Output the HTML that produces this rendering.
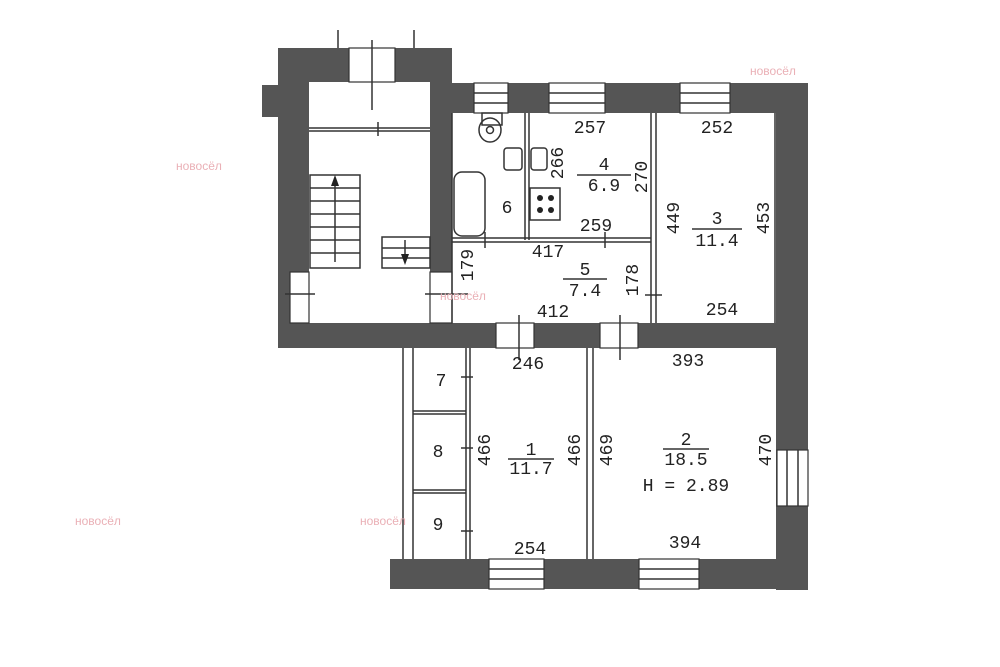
<!DOCTYPE html>
<html><head><meta charset="utf-8"><style>
html,body{margin:0;padding:0;background:#fff}
svg{display:block}
text{font-family:"Liberation Mono",monospace;font-size:18px;fill:#222}
.w{fill:#555}
.o{fill:#fff;stroke:#333;stroke-width:1.2}
.l{stroke:#333;stroke-width:1.5;fill:none}
.wm{font-family:"Liberation Sans",sans-serif;font-size:12px;fill:#eab0b6}
</style></head><body>
<svg width="1000" height="667" viewBox="0 0 1000 667" xmlns="http://www.w3.org/2000/svg">
<rect width="1000" height="667" fill="#fff"/>
<line class="l" x1="338" y1="30" x2="338" y2="48"/><line class="l" x1="414" y1="30" x2="414" y2="48"/>
<rect class="w" x="278" y="48" width="174" height="34"/>
<rect class="w" x="278" y="48" width="31" height="300"/>
<rect class="w" x="262" y="85" width="16" height="32"/>
<rect class="w" x="430" y="48" width="22" height="300"/>
<rect class="o" x="349" y="48" width="46" height="34"/>
<line class="l" x1="372" y1="40" x2="372" y2="110"/>
<rect class="w" x="452" y="83" width="356" height="30"/>
<rect class="w" x="776" y="83" width="32" height="507"/>
<rect class="o" x="474" y="83" width="34" height="30"/><line class="l" x1="474" y1="93" x2="508" y2="93"/><line class="l" x1="474" y1="103" x2="508" y2="103"/>
<rect class="o" x="549" y="83" width="56" height="30"/><line class="l" x1="549" y1="93" x2="605" y2="93"/><line class="l" x1="549" y1="103" x2="605" y2="103"/>
<rect class="o" x="680" y="83" width="50" height="30"/><line class="l" x1="680" y1="93" x2="730" y2="93"/><line class="l" x1="680" y1="103" x2="730" y2="103"/>
<rect class="w" x="278" y="323" width="530" height="25"/>
<rect class="o" x="496" y="323" width="38" height="25"/>
<rect class="o" x="600" y="323" width="38" height="25"/>
<rect class="o" x="290" y="272" width="19" height="51"/>
<rect class="o" x="430" y="272" width="22" height="51"/>
<line class="l" x1="285" y1="294" x2="315" y2="294"/><line class="l" x1="425" y1="294" x2="468" y2="294"/>
<line class="l" x1="309" y1="128" x2="430" y2="128"/><line class="l" x1="309" y1="131" x2="430" y2="131"/>
<line class="l" x1="378" y1="122" x2="378" y2="136"/>
<g class="l">
<rect x="310" y="175" width="50" height="93"/>
<line x1="310" y1="188" x2="360" y2="188"/><line x1="310" y1="201" x2="360" y2="201"/><line x1="310" y1="214" x2="360" y2="214"/><line x1="310" y1="227" x2="360" y2="227"/><line x1="310" y1="240" x2="360" y2="240"/><line x1="310" y1="253" x2="360" y2="253"/>
<rect x="382" y="237" width="48" height="31"/><line x1="382" y1="248" x2="430" y2="248"/><line x1="382" y1="258" x2="430" y2="258"/>
<line x1="335" y1="180" x2="335" y2="262"/><line x1="405" y1="240" x2="405" y2="262"/>
</g>
<polygon points="335,175 331,186 339,186" fill="#222"/>
<polygon points="405,265 401,254 409,254" fill="#222"/>
<g class="l">
<line x1="452" y1="113" x2="452" y2="323"/>
<line x1="525" y1="113" x2="525" y2="240"/><line x1="529" y1="113" x2="529" y2="240"/>
<line x1="651" y1="113" x2="651" y2="323"/><line x1="656" y1="113" x2="656" y2="323"/>
<line x1="452" y1="238" x2="651" y2="238"/><line x1="452" y1="242" x2="651" y2="242"/>
<line x1="775" y1="113" x2="775" y2="323"/>
<line x1="485" y1="232" x2="485" y2="248"/><line x1="605" y1="232" x2="605" y2="248"/>
<line x1="645" y1="295" x2="662" y2="295"/>
<line x1="519" y1="315" x2="519" y2="360"/><line x1="620" y1="315" x2="620" y2="360"/>
</g>
<g class="l">
<rect x="482" y="113" width="20" height="12"/><ellipse cx="490" cy="130" rx="11" ry="12"/><circle cx="490" cy="130" r="3.5"/>
<rect x="504" y="148" width="18" height="22" rx="3"/><rect x="531" y="148" width="16" height="22" rx="3"/>
<rect x="454" y="172" width="31" height="64" rx="8"/>
<rect x="530" y="188" width="30" height="32"/>
</g>
<circle cx="540" cy="198" r="3" fill="#222"/><circle cx="551" cy="198" r="3" fill="#222"/><circle cx="540" cy="210" r="3" fill="#222"/><circle cx="551" cy="210" r="3" fill="#222"/>
<rect class="w" x="390" y="559" width="418" height="30"/>
<rect class="o" x="489" y="559" width="55" height="30"/><line class="l" x1="489" y1="569" x2="544" y2="569"/><line class="l" x1="489" y1="579" x2="544" y2="579"/>
<rect class="o" x="639" y="559" width="60" height="30"/><line class="l" x1="639" y1="569" x2="699" y2="569"/><line class="l" x1="639" y1="579" x2="699" y2="579"/>
<rect class="o" x="777" y="450" width="31" height="56"/><line class="l" x1="787" y1="450" x2="787" y2="506"/><line class="l" x1="798" y1="450" x2="798" y2="506"/>
<g class="l">
<line x1="403" y1="348" x2="403" y2="559"/><line x1="413" y1="348" x2="413" y2="559"/>
<line x1="466" y1="348" x2="466" y2="559"/><line x1="470" y1="348" x2="470" y2="559"/>
<line x1="587" y1="348" x2="587" y2="559"/><line x1="593" y1="348" x2="593" y2="559"/>
<line x1="413" y1="411" x2="466" y2="411"/><line x1="413" y1="414" x2="466" y2="414"/>
<line x1="413" y1="490" x2="466" y2="490"/><line x1="413" y1="493" x2="466" y2="493"/>
<line x1="461" y1="377" x2="473" y2="377"/><line x1="461" y1="448" x2="473" y2="448"/><line x1="461" y1="531" x2="473" y2="531"/>
</g>
<text x="590" y="133" text-anchor="middle">257</text>
<text x="717" y="133" text-anchor="middle">252</text>
<text transform="translate(563,163) rotate(-90)" text-anchor="middle">266</text>
<text x="604" y="170" text-anchor="middle">4</text><line class="l" x1="577" y1="175" x2="631" y2="175"/>
<text x="604" y="191" text-anchor="middle">6.9</text>
<text transform="translate(647,177) rotate(-90)" text-anchor="middle">270</text>
<text x="507" y="213" text-anchor="middle">6</text>
<text x="596" y="231" text-anchor="middle">259</text>
<text transform="translate(679,218) rotate(-90)" text-anchor="middle">449</text>
<text x="717" y="224" text-anchor="middle">3</text><line class="l" x1="692" y1="229" x2="742" y2="229"/>
<text x="717" y="246" text-anchor="middle">11.4</text>
<text transform="translate(769,218) rotate(-90)" text-anchor="middle">453</text>
<text x="548" y="257" text-anchor="middle">417</text>
<text x="585" y="275" text-anchor="middle">5</text><line class="l" x1="563" y1="279" x2="607" y2="279"/>
<text x="585" y="296" text-anchor="middle">7.4</text>
<text transform="translate(473,265) rotate(-90)" text-anchor="middle">179</text>
<text transform="translate(638,280) rotate(-90)" text-anchor="middle">178</text>
<text x="553" y="317" text-anchor="middle">412</text>
<text x="722" y="315" text-anchor="middle">254</text>
<text x="528" y="369" text-anchor="middle">246</text>
<text x="688" y="366" text-anchor="middle">393</text>
<text x="441" y="386" text-anchor="middle">7</text>
<text x="438" y="457" text-anchor="middle">8</text>
<text x="438" y="530" text-anchor="middle">9</text>
<text transform="translate(490,450) rotate(-90)" text-anchor="middle">466</text>
<text x="531" y="455" text-anchor="middle">1</text><line class="l" x1="508" y1="459" x2="554" y2="459"/>
<text x="531" y="474" text-anchor="middle">11.7</text>
<text transform="translate(580,450) rotate(-90)" text-anchor="middle">466</text>
<text transform="translate(612,450) rotate(-90)" text-anchor="middle">469</text>
<text x="686" y="445" text-anchor="middle">2</text><line class="l" x1="663" y1="449" x2="709" y2="449"/>
<text x="686" y="465" text-anchor="middle">18.5</text>
<text x="686" y="491" text-anchor="middle">H = 2.89</text>
<text transform="translate(771,450) rotate(-90)" text-anchor="middle">470</text>
<text x="530" y="554" text-anchor="middle">254</text>
<text x="685" y="548" text-anchor="middle">394</text>
<text class="wm" x="176" y="170">новосёл</text>
<text class="wm" x="440" y="300">новосёл</text>
<text class="wm" x="75" y="525">новосёл</text>
<text class="wm" x="360" y="525">новосёл</text>
<text class="wm" x="750" y="75">новосёл</text>
</svg>
</body></html>
